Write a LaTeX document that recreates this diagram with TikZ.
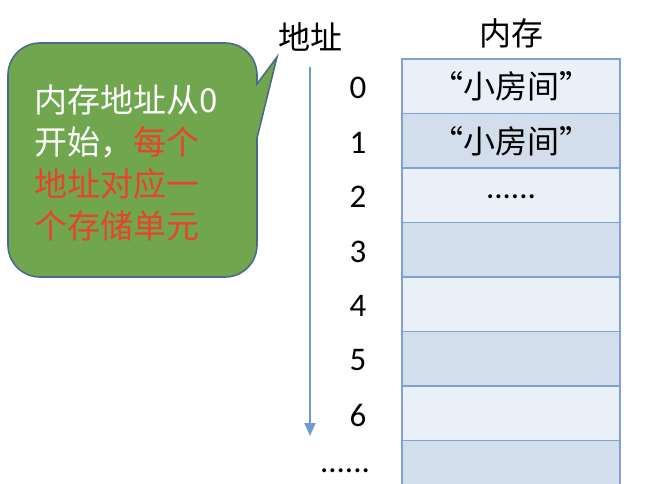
\documentclass[tikz,border=0pt]{standalone}
\usepackage{fontspec}
\setmainfont{Carlito}
\newfontfamily\cjk{Noto Sans CJK SC}
\usepackage{xcolor}
\usetikzlibrary{arrows.meta}

\definecolor{cellLight}{HTML}{EAF0F7}
\definecolor{cellDark}{HTML}{D3DEEC}
\definecolor{cellLine}{HTML}{7EA3D3}
\definecolor{arrowBlue}{HTML}{6F9BD0}
\definecolor{bubbleGreen}{HTML}{70A64E}
\definecolor{bubbleLine}{HTML}{4A6C8C}
\definecolor{noteRed}{HTML}{E8432C}

\tikzset{
  cellA/.style={draw=cellLine, line width=1.6pt, fill=cellLight,
    minimum width=218pt, minimum height=54.5pt, inner sep=0pt},
  cellB/.style={cellA, fill=cellDark},
  addr/.style={font=\fontsize{33}{36}\selectfont},
  head/.style={font=\cjk\fontsize{32}{34}\selectfont},
  room/.style={font=\cjk\fontsize{32}{34}\selectfont}
}

\begin{document}
\begin{tikzpicture}[x=1pt, y=-1pt]
\useasboundingbox (0,0) rectangle (664,483);
\clip (0,0) rectangle (664,483);

\foreach \i in {0,2,4,6}{
    \node[cellA] (m\i) at (511,{86.25+54.5*\i}) {};
}
\foreach \i in {1,3,5,7}{
    \node[cellB] (m\i) at (511,{86.25+54.5*\i}) {};
}
\node[room] (r0) at (m0) {“小房间”};
\node[room] (r1) at (m1) {“小房间”};
\node[addr] (r2) at ([yshift=-2pt]m2) {......};

\node[head] (memlabel) at (511,33) {内存};
\node[head] (addrlabel) at (310,37) {地址};

\foreach \i in {0,...,6}{
    \node[addr] (a\i) at (358,{88+54.5*\i}) {\i};
}
\node[addr] (adots) at (345,471) {......};

\coordinate (arrtop) at (310,67);
\coordinate (arrbot) at (310,436);
\draw[arrowBlue, line width=2pt, -{Triangle[length=13pt,width=11pt]}] (arrtop) -- (arrbot);

\draw[bubbleLine, line width=1.6pt, fill=bubbleGreen]
  (40,43) -- (225,43) arc[start angle=-90, end angle=0, radius=32]
  -- (257,84) -- (277,57) -- (257,138)
  -- (257,245) arc[start angle=0, end angle=90, radius=32]
  -- (40,277) arc[start angle=90, end angle=180, radius=32]
  -- (8,75) arc[start angle=180, end angle=270, radius=32] -- cycle;
\node[anchor=north west, align=left, inner sep=0pt, text=white,
      font=\cjk\fontsize{33}{42}\selectfont] (note) at (34,85)
  {内存地址从0\\开始，\textcolor{noteRed}{每个}\\
   \textcolor{noteRed}{地址对应一}\\\textcolor{noteRed}{个存储单元}};
\end{tikzpicture}
\end{document}
